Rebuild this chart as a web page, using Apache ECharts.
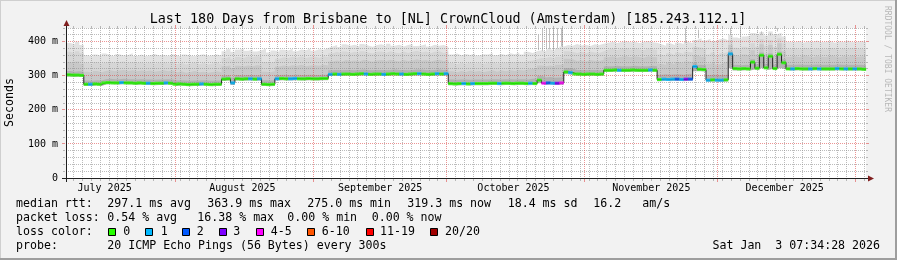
<!DOCTYPE html>
<html><head><meta charset="utf-8">
<script src="https://cdn.jsdelivr.net/npm/echarts@6/dist/echarts.min.js"></script>
<style>html,body{margin:0;padding:0;background:#f2f2f2}#c{width:897px;height:260px}</style>
</head><body><div id="c"></div><script>
// x unit: days since 2025-07-01 00:00 (local time)
const START = 6.3156, END = 186.3156;
const monthStarts = [31, 62, 92, 123, 153, 184];
const monthLabelDays = [15, 46, 77, 107, 138, 168];
const monthLabels = ['July 2025','August 2025','September 2025','October 2025','November 2025','December 2025'];
const minorGridDays = [8,10,12,14,16,18,20,22,24,26,28,30,32,34,36,38,40,42,44,46,48,50,52,54,56,58,60,64,66,68,70,72,74,76,78,80,82,84,86,88,90,94,96,98,100,102,104,106,108,110,112,114,116,118,120,122,124,126,128,130,132,134,136,138,140,142,144,146,148,150,152,154,156,158,160,162,164,166,168,170,172,174,176,178,180,182,186];
const yMajor = [100, 200, 300, 400];
const yMinor = [20,40,60,80,120,140,160,180,220,240,260,280,320,340,360,380,420,440];

// per-day values (day index 0..179 from START), milliseconds
const median = [303,302,302,301, 275,275,276,275, 279,280,279,279,280,279,279,278,279, 278,278,277,278,278,279,278,
 275,276,275,274,275,275,276,275,274,275,275, 290,291, 279, 291,290,291,291,290,291, 275,274,275,
 291,292,291,291,292,291,291,292,291,291,292,292,
 304,305,304,305,305,304,305,306,305,304,305,305,304,305,306,305,305,304,305,306,306,305,304,305,306,305,306,
 277,276,277,277,276,277,277,277,277,278,278,277,278,278,277,278,278,277,278,277,
 287, 278,279,278,278,279, 311,309, 305,305,304,305,305,304,305,
 316,316,317,316,316,316,317,316,316,316,317,316, 289,290,289,290,290,289,290,290,
 327,319,318, 287,288,287,287,288, 364, 321,320,321,320, 340,322,360,323,357,321,363,338,
 320,320,321,320,320,320,321,320,320,320,320,321,320,320,320,320,320,319];
// lost pings (of 20) per day
const loss = [0,0,0,0,0,1,0,0,0,0, 0,0,1,0,0,0,0,0,1,0, 0,0,1,0,0,0,0,0,0,0, 1,0,0,0,0,0,0,1,0,0,
 0,1,0,1,0,0,0,1,0,0, 1,1,0,0,0,0,0,0,0,1, 0,1,0,0,0,0,0,1,0,0, 0,1,0,0,0,1,0,0,0,1,
 0,0,0,1,0,1,0,0,0,1, 0,1,0,0,0,0,0,1,0,0, 0,0,0,0,1,0,0,4,2,1, 3,4,0,1,0,0,0,0,0,0,
 0,0,0,0,1,0,0,0,0,0, 0,1,0,0,1,1,1,2,1,3, 2,1,0,0,1,0,1,1,0,1, 0,0,0,0,0,0,0,0,0,0,
 0,0,0,1,0,0,0,1,0,1, 0,0,0,1,0,1,0,1,0,0];
const smokeMin = [297,296,297,296, 270,270,271,270, 274,275,274,274,275,274,274,273,274, 273,273,272,273,273,274,273,
 270,271,270,269,270,270,271,270,269,270,270, 285,286, 273, 286,285,286,286,285,286, 270,269,270,
 286,287,286,286,287,286,286,287,286,286,287,287,
 299,300,299,300,300,299,300,301,300,299,300,300,299,300,301,300,300,299,300,301,301,300,299,300,301,300,301,
 272,271,272,272,271,272,272,272,272,273,273,272,273,273,272,273,273,272,273,272,
 278, 273,274,273,273,274, 304,303, 300,300,299,300,300,299,300,
 311,311,312,311,311,311,312,311,311,311,312,311, 284,285,284,285,285,284,285,285,
 313,313,312, 282,283,282,282,283, 322, 315,315,316,315, 318,316,322,317,320,316,322,318,
 315,315,316,315,315,315,316,315,315,315,315,316,315,315,315,315,315,314];
const smokeLow = [314,312,313,311, 286,285,287,286, 290,291,290,290,291,290,290,289,290, 289,289,288,289,289,290,289,
 286,287,286,285,286,286,287,286,285,286,286, 301,302, 295, 302,301,302,302,301,302, 287,286,287,
 302,303,302,302,303,302,302,303,302,302,303,303,
 316,317,316,317,317,316,317,318,317,316,317,317,316,317,318,317,317,316,317,318,318,317,316,317,318,317,318,
 289,288,289,289,288,289,289,289,289,290,290,289,290,290,289,290,290,289,291,292,
 300, 295,296,294,295,296, 323,321, 317,317,316,317,317,316,317,
 328,328,329,328,328,328,329,328,328,328,329,328, 303,304,303,304,304,303,305,306,
 338,332,331, 302,303,302,302,303, 372, 332,331,332,331, 348,334,368,335,365,333,370,348,
 332,332,333,332,332,332,333,332,332,332,332,333,332,332,332,332,332,331];
const smokeMid = [340,336,342,335, 312,308,314,310, 314,316,313,315,317,314,316,313,315, 313,315,312,314,316,313,315,
 310,313,309,311,314,310,312,309,311,313,310, 328,330, 322, 329,327,330,328,331,329, 312,310,313,
 327,330,328,331,329,332,328,330,331,329,332,330,
 342,345,341,346,343,345,342,347,344,341,345,346,343,347,344,342,346,343,345,348,344,346,342,345,347,343,346,
 313,310,314,311,315,312,314,311,313,316,312,315,313,316,314,317,315,318,320,322,
 330, 328,330,326,332,334, 350,348, 343,345,342,346,344,343,347,
 354,357,353,356,358,354,357,355,353,357,355,354, 335,332,338,334,340,336,342,340,
 360,356,355, 335,340,333,338,342, 390, 360,356,362,358, 375,362,392,365,390,360,395,372,
 356,358,355,359,357,354,358,356,355,359,357,354,358,356,359,355,357,356];
const smokeHigh = [370,365,372,366, 338,334,340,336, 338,341,337,340,342,338,340,337,339, 336,339,335,338,340,336,339,
 334,338,333,336,339,334,337,333,336,338,334, 352,356, 348, 355,352,357,354,358,355, 340,337,341,
 350,354,352,356,353,357,352,355,356,353,357,355,
 366,370,365,371,367,370,366,372,368,365,370,371,367,372,368,366,371,367,370,373,368,371,366,370,372,367,371,
 337,334,338,335,339,336,338,335,337,340,336,339,337,340,338,341,339,343,345,348,
 352, 352,355,350,356,358, 372,370, 367,370,366,371,368,367,372,
 376,380,375,379,381,376,380,378,375,380,378,376, 362,358,366,361,368,364,370,368,
 385,382,380, 362,368,360,366,370, 405, 382,378,385,380, 395,385,408,388,405,384,410,395,
 378,380,377,381,379,376,380,378,377,381,379,376,380,378,381,377,379,378];
const smokeMax = [396,392,400,390,
 360,356,362,358,365,360,357,363,359,361,366,358,362,357,360,364,359,361,358,363,360,356,362,359,357,361,363,358,360,362,359,
 372,378,370,376,380,373,377,371,375,379,368,374,
 370,376,374,379,372,377,375,380,373,378,376,381,
 386,390,384,392,388,391,386,393,389,385,390,392,387,394,388,391,386,390,393,387,389,392,386,391,388,390,385,
 362,365,360,364,361,366,359,363,362,367,360,364,361,366,363,368,362,370,367,372,
 375,372,378,374,380,386,
 390,388,393,389,391,387,392,390,394,
 397,400,396,399,401,398,400,396,399,402,398,397,
 392,388,395,390,397,393,400,396,
 405,410,403,408,402,406,409,404,
 420,412,408,415,418,425,420,428,418,430,422,426,415,
 400,398,402,397,401,399,403,398,400,402,397,401,399,403,398,400,402,399];
// isolated tall outliers (thin lines)
const spikeDays = [106.4,107.3,108.0,108.7,109.6,110.5,111.4,111.8,139.3,142.4,149.4,151.7,155.5,156.4,158.4,160.2];
const spikeLo =   [375,372,378,378,374,380,386,386,396,410,420,412,425,420,418,430];
const spikeHi =   [420,440,440,440,440,440,440,440,440,435,440,440,430,430,425,440];

const lossColors = ['#26ff00','#00b8ff','#0059ff','#7e00ff','#ff00ff','#ff5500','#ff0000','#a10000'];
const lossLabels = ['0','1','2','3','4-5','6-10','11-19','20/20'];
const lossClass = n => n <= 3 ? n : n <= 5 ? 4 : n <= 10 ? 5 : n <= 19 ? 6 : 7;

const MONO = '"DejaVu Sans Mono", monospace';
const stepData = arr => { const d = arr.map((v, i) => [START + i, v]); d.push([START + arr.length, arr[arr.length - 1]]); return d; };

const MINOR = 'rgba(143,143,143,0.6)';
const MAJOR = 'rgba(222,79,79,0.6)';

// smoke: layered absolute areas, outermost first
const smokeLayers = [[smokeMax, '#e2e2e2'], [smokeHigh, '#d6d6d6'], [smokeMid, '#c8c8c8'], [smokeLow, '#b2b2b2'], [smokeMin, '#ffffff']];
const series = smokeLayers.map(l => ({
  type: 'line', step: 'end', symbol: 'none', silent: true, z: 2,
  data: stepData(l[0]),
  lineStyle: { width: 0, opacity: 0 },
  areaStyle: { color: l[1], opacity: 1 }
}));
series.push({
  type: 'custom', z: 2, silent: true,
  data: spikeDays.map((d, i) => [START + d, spikeLo[i], spikeHi[i]]),
  encode: { x: 0, y: [1, 2] },
  renderItem: (params, api) => {
    const a = api.coord([api.value(0), api.value(1)]);
    const b = api.coord([api.value(0), api.value(2)]);
    const x = Math.floor(a[0]) + 0.5;
    return { type: 'line', shape: { x1: x, y1: a[1], x2: x, y2: b[1] }, style: { stroke: '#c0c0c0', lineWidth: 1 } };
  }
});
series.push({
  type: 'line', step: 'end', symbol: 'none', silent: true, z: 6,
  data: stepData(median),
  lineStyle: { color: '#202020', width: 1 }
});
series.push({
  type: 'scatter', silent: true, z: 7,
  data: median.map((v, i) => [START + i + 0.5, v]),
  symbol: 'rect', symbolSize: [4.7, 3],
  itemStyle: { color: p => lossColors[lossClass(loss[p.dataIndex])] }
});

const baseGraphic = [
  { type: 'rect', z: 100, shape: { x: 0, y: 0, width: 897, height: 260 }, style: { fill: 'none', stroke: '#cfcfcf', lineWidth: 2 } },
  { type: 'line', z: 100, shape: { x1: 896, y1: 0, x2: 896, y2: 260 }, style: { stroke: '#9e9e9e', lineWidth: 2 } },
  { type: 'line', z: 100, shape: { x1: 0, y1: 259, x2: 897, y2: 259 }, style: { stroke: '#9e9e9e', lineWidth: 2 } },
  { type: 'line', z: 100, shape: { x1: 62, y1: 178.5, x2: 868, y2: 178.5 }, style: { stroke: '#1f1f1f', lineWidth: 1 } },
  { type: 'polygon', z: 100, shape: { points: [[868, 175.5], [874, 178.5], [868, 181.5]] }, style: { fill: '#801f1f' } },
  { type: 'line', z: 100, shape: { x1: 66.5, y1: 182, x2: 66.5, y2: 25 }, style: { stroke: '#1f1f1f', lineWidth: 1 } },
  { type: 'polygon', z: 100, shape: { points: [[63.5, 26], [66.5, 20], [69.5, 26]] }, style: { fill: '#801f1f' } },
  { type: 'text', z: 100, style: { text: 'Last 180 Days from Brisbane to [NL] CrownCloud (Amsterdam) [185.243.112.1]', x: 448, y: 19.5, align: 'center', verticalAlign: 'middle', font: '13.4px ' + MONO, fill: '#000' } },
  { type: 'text', z: 100, rotation: Math.PI / 2, x: 10, y: 102.5, style: { text: 'Seconds', x: 0, y: 0, align: 'center', verticalAlign: 'middle', font: '11.6px ' + MONO, fill: '#000' } },
  { type: 'text', z: 100, rotation: -Math.PI / 2, x: 887, y: 59, style: { text: 'RRDTOOL / TOBI OETIKER', x: 0, y: 0, align: 'center', verticalAlign: 'middle', font: '8px ' + MONO, fill: '#b8b8b8' } },
  ...[
    ['median rtt:', 16, 204], ['297.1 ms avg', 107.3, 204], ['363.9 ms max', 207.3, 204], ['275.0 ms min', 307.3, 204],
    ['319.3 ms now', 407.3, 204], ['18.4 ms sd', 507.7, 204], ['16.2', 593.3, 204], ['am/s', 642.3, 204],
    ['packet loss:', 16, 218], ['0.54 % avg', 107.3, 218], ['16.38 % max', 197.3, 218], ['0.00 % min', 287.3, 218], ['0.00 % now', 371.7, 218],
    ['loss color:', 16, 232],
    ['probe:', 16, 246], ['20 ICMP Echo Pings (56 Bytes) every 300s', 107.3, 246]
  ].map(t => ({ type: 'text', z: 100, style: { text: t[0], x: t[1], y: t[2], verticalAlign: 'middle', font: '11.6px ' + MONO, fill: '#000' } })),
  { type: 'text', z: 100, style: { text: 'Sat Jan  3 07:34:28 2026', x: 880, y: 246, align: 'right', verticalAlign: 'middle', font: '11.6px ' + MONO, fill: '#000' } },
  ...[108.5, 145.5, 182.5, 219.5, 256.5, 307.5, 366.5, 430.5].map((x, i) => ({ type: 'rect', z: 100, shape: { x: x, y: 228.5, width: 7, height: 7 }, style: { fill: lossColors[i], stroke: '#000', lineWidth: 1 } })),
  ...[123.3, 160.7, 196.7, 233.3, 270.7, 321.7, 380, 445].map((x, i) => ({ type: 'text', z: 100, style: { text: lossLabels[i], x: x, y: 232, verticalAlign: 'middle', font: '11.6px ' + MONO, fill: '#000' } }))
];

const option = {
  animation: false,
  backgroundColor: '#f2f2f2',
  grid: { left: 66, top: 28, width: 800, height: 150, show: true, backgroundColor: '#ffffff', borderWidth: 0 },
  xAxis: { type: 'value', min: START, max: END,
    axisLine: { show: false }, axisTick: { show: false }, splitLine: { show: false },
    axisLabel: { customValues: monthLabelDays, margin: 5, fontFamily: MONO, fontSize: 10, color: '#000',
      formatter: v => monthLabels[monthLabelDays.indexOf(Math.round(v))] || '' } },
  yAxis: { type: 'value', min: 0, max: 440, interval: 100,
    axisLine: { show: false }, axisTick: { show: false }, splitLine: { show: false },
    axisLabel: { margin: 8, fontFamily: MONO, fontSize: 10, color: '#000', showMaxLabel: false,
      formatter: v => v === 0 ? '0' : v + ' m' } },
  series: series,
  graphic: baseGraphic
};
const chart = echarts.init(document.getElementById('c'), null, { renderer: 'canvas', width: 897, height: 260 });
chart.setOption(option);

// grid lines placed through the axes' scales, drawn over the smoke (as rrdtool does)
const gTop = chart.convertToPixel({ gridIndex: 0 }, [START, 440])[1];
const gBot = chart.convertToPixel({ gridIndex: 0 }, [START, 0])[1];
const gLeft = chart.convertToPixel({ gridIndex: 0 }, [START, 0])[0];
const gRight = chart.convertToPixel({ gridIndex: 0 }, [END, 0])[0];
const seg = (x1, y1, x2, y2, color, dash) => ({ type: 'line', z: 5, silent: true, shape: { x1, y1, x2, y2 }, style: { stroke: color, lineWidth: 1, lineDash: dash || null } });
const vLine = (d, color, tick) => {
  const x = Math.floor(chart.convertToPixel({ gridIndex: 0 }, [d, 0])[0]) + 0.5;
  return [
    seg(x, gTop, x, gBot, color, [1, 1]),
    seg(x, gBot + 1, x, gBot + 1 + tick, color),
    seg(x, gTop - tick, x, gTop, color)
  ];
};
const hLine = (v, color, tick) => {
  const y = Math.floor(chart.convertToPixel({ gridIndex: 0 }, [START, v])[1]) + 0.5;
  return [
    seg(gLeft, y, gRight, y, color, [1, 1]),
    seg(gLeft - 1 - tick, y, gLeft - 1, y, color),
    seg(gRight, y, gRight + tick, y, color)
  ];
};
const gridGraphic = [].concat(
  ...minorGridDays.map(d => vLine(d, MINOR, 2)),
  ...yMinor.map(v => hLine(v, MINOR, 2)),
  ...monthStarts.map(d => vLine(d, MAJOR, 3)),
  ...yMajor.map(v => hLine(v, MAJOR, 3))
);
chart.setOption({ graphic: gridGraphic.concat(baseGraphic) }, { replaceMerge: ['graphic'] });
</script></body></html>
